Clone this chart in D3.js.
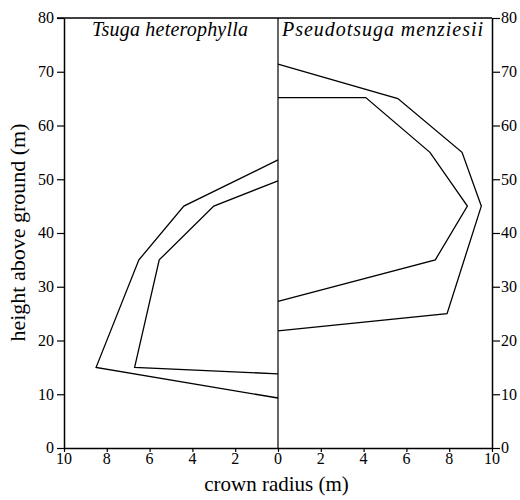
<!DOCTYPE html>
<html>
<head>
<meta charset="utf-8">
<script src="https://cdn.jsdelivr.net/npm/d3@7"></script>
<style>
  body { margin: 0; background: #fff; }
  svg text { font-family: "Times New Roman", serif; fill: #000; }
  .tick line, .domain { stroke: #000; }
</style>
</head>
<body>
<div id="root"></div>
<script>
// crown profiles: radius (m) and height (m) of each vertex
const tsugaOuterR = [0, 4.4, 6.5, 8.5, 0];
const tsugaOuterH = [53.6, 45, 35, 15, 9.3];
const tsugaInnerR = [0, 3.0, 5.55, 6.7, 0];
const tsugaInnerH = [49.7, 45, 35, 15, 13.8];

const pseudoOuterR = [0, 5.6, 8.6, 9.5, 7.9, 0];
const pseudoOuterH = [71.4, 65, 55, 45, 25, 21.8];
const pseudoInnerR = [0, 4.1, 7.1, 8.85, 7.35, 0];
const pseudoInnerH = [65.2, 65.2, 55, 45, 35, 27.3];

const heightTicks = [0, 10, 20, 30, 40, 50, 60, 70, 80];
const leftRadiusTicks = [10, 8, 6, 4, 2];
const rightRadiusTicks = [0, 2, 4, 6, 8, 10];

const width = 520;
const height = 500;

const svg = d3.select("#root")
  .append("svg")
  .attr("width", width)
  .attr("height", height);

const plotLeft = 64, plotMid = 278, plotRight = 492, plotTop = 18, plotBottom = 448;

const y = d3.scaleLinear().domain([0, 80]).range([plotBottom, plotTop]);
const xL = d3.scaleLinear().domain([10, 0]).range([plotLeft, plotMid]);
const xR = d3.scaleLinear().domain([0, 10]).range([plotMid, plotRight]);

// Axes (lines and ticks; labels are drawn below)
const yLeft = svg.append("g")
  .attr("transform", `translate(${plotLeft},0)`)
  .call(d3.axisLeft(y).tickValues(heightTicks).tickSize(7).tickFormat("").tickSizeOuter(0));
const yRight = svg.append("g")
  .attr("transform", `translate(${plotRight},0)`)
  .call(d3.axisRight(y).tickValues(heightTicks).tickSize(8).tickFormat("").tickSizeOuter(0));
const xLeft = svg.append("g")
  .attr("transform", `translate(0,${plotBottom})`)
  .call(d3.axisBottom(xL).tickValues(leftRadiusTicks).tickSize(4).tickFormat("").tickSizeOuter(0));
const xRight = svg.append("g")
  .attr("transform", `translate(0,${plotBottom})`)
  .call(d3.axisBottom(xR).tickValues(rightRadiusTicks).tickSize(4).tickFormat("").tickSizeOuter(0));

[yLeft, yRight, xLeft, xRight].forEach((g) => {
  g.selectAll("path.domain").attr("stroke-width", 1.5);
  g.selectAll(".tick line").attr("stroke-width", 1.2);
});

// tick labels
const labels = svg.append("g").attr("font-size", 16);
labels.selectAll(".yl")
  .data(heightTicks)
  .join("text")
  .attr("x", plotLeft - 10)
  .attr("y", (d) => y(d))
  .attr("dy", "0.33em")
  .attr("text-anchor", "end")
  .text((d) => d);
labels.selectAll(".yr")
  .data(heightTicks)
  .join("text")
  .attr("x", plotRight + 9)
  .attr("y", (d) => y(d))
  .attr("dy", "0.33em")
  .text((d) => d);
labels.selectAll(".xl")
  .data(leftRadiusTicks)
  .join("text")
  .attr("x", (d) => xL(d))
  .attr("y", plotBottom + 16)
  .attr("text-anchor", "middle")
  .text((d) => d);
labels.selectAll(".xr")
  .data(rightRadiusTicks)
  .join("text")
  .attr("x", (d) => xR(d))
  .attr("y", plotBottom + 16)
  .attr("text-anchor", "middle")
  .text((d) => d);

// top border and centre divider
svg.append("line")
  .attr("x1", plotLeft - 7).attr("x2", plotRight)
  .attr("y1", plotTop).attr("y2", plotTop)
  .attr("stroke", "#000").attr("stroke-width", 1.5);
svg.append("line")
  .attr("x1", plotMid).attr("x2", plotMid)
  .attr("y1", plotTop).attr("y2", plotBottom)
  .attr("stroke", "#000").attr("stroke-width", 1.2);

// Profiles
const line = (xs) => d3.line().x((d) => xs(d[0])).y((d) => y(d[1]));
const profiles = [
  [xL, tsugaOuterR, tsugaOuterH],
  [xL, tsugaInnerR, tsugaInnerH],
  [xR, pseudoOuterR, pseudoOuterH],
  [xR, pseudoInnerR, pseudoInnerH]
];
profiles.forEach(([xs, r, h]) => {
  svg.append("path")
    .datum(r.map((v, i) => [v, h[i]]))
    .attr("d", line(xs))
    .attr("fill", "none")
    .attr("stroke", "#000")
    .attr("stroke-width", 1.3)
    .attr("stroke-linejoin", "miter");
});

// Species labels
svg.append("text")
  .text("Tsuga heterophylla")
  .attr("x", 92)
  .attr("y", 36)
  .attr("textLength", 156)
  .style("font-style", "italic")
  .style("font-size", "20px");
svg.append("text")
  .text("Pseudotsuga menziesii")
  .attr("x", 282)
  .attr("y", 36)
  .attr("textLength", 201)
  .style("font-style", "italic")
  .style("font-size", "20px");

// Axis titles
svg.append("text")
  .text("crown radius (m)")
  .attr("x", 276.5)
  .attr("y", 491)
  .attr("text-anchor", "middle")
  .style("font-size", "21px");
svg.append("text")
  .text("height above ground (m)")
  .attr("transform", "translate(25,232.5) rotate(-90)")
  .attr("text-anchor", "middle")
  .style("font-size", "22px");
</script>
</body>
</html>
